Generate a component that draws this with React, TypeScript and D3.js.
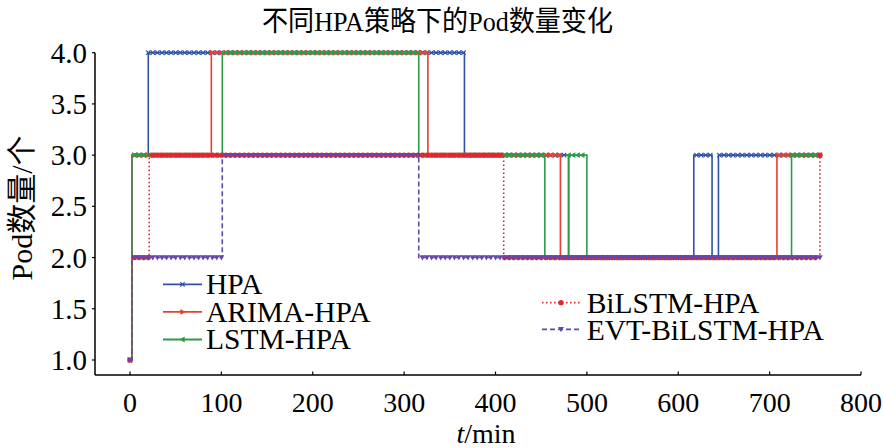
import React from "react";
import * as d3 from "d3";

// change points: [time (min)], [pod count]
const hpaTime = [0, 2, 20, 366, 480, 617, 637, 644, 755];
const hpaPods = [1, 3, 4, 3, 2, 3, 2, 3, 3];
const arimaTime = [0, 2, 89, 326, 471, 708, 755];
const arimaPods = [1, 3, 4, 3, 2, 3, 3];
const lstmTime = [0, 2, 101, 316, 454, 480, 500, 724, 755];
const lstmPods = [1, 3, 4, 3, 2, 3, 2, 3, 3];
const bilstmTime = [0, 2, 21, 409, 755];
const bilstmPods = [1, 2, 3, 2, 3];
const evtTime = [0, 2, 101, 316, 755];
const evtPods = [1, 2, 3, 2, 2];

const xTicks = [0, 100, 200, 300, 400, 500, 600, 700, 800];
const yTicks = [1.0, 1.5, 2.0, 2.5, 3.0, 3.5, 4.0];
const markerStep = 5; // one marker every 5 min sample

type Marker = "x" | "right" | "left" | "dot" | "down";

interface Series {
  name: string;
  time: number[];
  pods: number[];
  color: string;
  dash?: string;
  marker: Marker;
}

const series: Series[] = [
  { name: "HPA", time: hpaTime, pods: hpaPods, color: "#2f52a6", marker: "x" },
  { name: "ARIMA-HPA", time: arimaTime, pods: arimaPods, color: "#e8402e", marker: "right" },
  { name: "LSTM-HPA", time: lstmTime, pods: lstmPods, color: "#2e9a4a", marker: "left" },
  { name: "BiLSTM-HPA", time: bilstmTime, pods: bilstmPods, color: "#e2262c", dash: "1.5,2.5", marker: "dot" },
  { name: "EVT-BiLSTM-HPA", time: evtTime, pods: evtPods, color: "#6447ad", dash: "5,3", marker: "down" },
];

const FONT = "Liberation Serif, Noto Sans CJK SC";

function podsAt(s: Series, t: number) {
  let v = s.pods[0];
  for (let i = 0; i < s.time.length; i++) if (s.time[i] <= t) v = s.pods[i];
  return v;
}

function drawMarker(m: Marker, x: number, y: number, color: string, key: string) {
  switch (m) {
    case "x":
      return (
        <path key={key} d={`M${x - 2.2},${y - 2.2}L${x + 2.2},${y + 2.2}M${x - 2.2},${y + 2.2}L${x + 2.2},${y - 2.2}`}
          stroke={color} strokeWidth={1.1} fill="none" />
      );
    case "right":
      return <polygon key={key} points={`${x + 3.2},${y} ${x - 2.2},${y - 2.9} ${x - 2.2},${y + 2.9}`} fill={color} />;
    case "left":
      return <polygon key={key} points={`${x - 3.2},${y} ${x + 2.2},${y - 2.9} ${x + 2.2},${y + 2.9}`} fill={color} />;
    case "dot":
      return <circle key={key} cx={x} cy={y} r={2.6} fill={color} />;
    case "down":
      return <polygon key={key} points={`${x - 2.9},${y - 2.2} ${x + 2.9},${y - 2.2} ${x},${y + 3}`} fill={color} />;
  }
}

export default function App() {
  const x = d3.scaleLinear().domain([0, 800]).range([130, 861]);
  const y = d3.scaleLinear().domain([1, 4]).range([360, 52.7]);
  const x0 = 95;
  const yBase = 375;

  const line = (s: Series) =>
    d3
      .line<number>()
      .x((_, i) => x(s.time[i]))
      .y((d) => y(d))
      .curve(d3.curveStepAfter)(s.pods) || "";

  const lastT = d3.max(series, (s) => s.time[s.time.length - 1]) || 0;
  const samples = d3.range(0, lastT + 1, markerStep);

  const legendLeft = series.slice(0, 3);
  const legendRight = series.slice(3);

  return (
    <svg width={883} height={448} style={{ position: "absolute", left: 0, top: 0, background: "#fff", fontFamily: FONT }}>
      <rect width={883} height={448} fill="#fff" />
      <text x={437.5} y={31} textAnchor="middle" fontSize={28} textLength={351} lengthAdjust="spacingAndGlyphs">
        不同HPA策略下的Pod数量变化
      </text>

      {/* axes */}
      <line x1={x0} x2={x0} y1={y(4)} y2={yBase} stroke="#000" strokeWidth={1.5} />
      <line x1={x0} x2={x(800)} y1={yBase} y2={yBase} stroke="#000" strokeWidth={1.5} />
      {yTicks.map((t) => (
        <g key={"y" + t}>
          <line x1={x0 - 3} x2={x0} y1={y(t)} y2={y(t)} stroke="#000" strokeWidth={1.2} />
          <text x={87} y={y(t) + 10} textAnchor="end" fontSize={29}>
            {d3.format(".1f")(t)}
          </text>
        </g>
      ))}
      {xTicks.map((t) => (
        <g key={"x" + t}>
          <line x1={x(t)} x2={x(t)} y1={yBase} y2={yBase - 3.5} stroke="#000" strokeWidth={1.2} />
          <text x={x(t)} y={411.5} textAnchor="middle" fontSize={28}>
            {t}
          </text>
        </g>
      ))}
      <text x={486} y={443} textAnchor="middle" fontSize={28}>
        <tspan fontStyle="italic">t</tspan>/min
      </text>
      <text transform="translate(32,208) rotate(-90)" textAnchor="middle" fontSize={30}>
        Pod数量/个
      </text>

      {/* series */}
      {series.map((s) => (
        <g key={s.name}>
          <path d={line(s)} fill="none" stroke={s.color} strokeWidth={1.6} strokeDasharray={s.dash} />
          {samples
            .filter((t) => t <= s.time[s.time.length - 1])
            .map((t) => drawMarker(s.marker, x(t), y(podsAt(s, t)), s.color, s.name + t))}
        </g>
      ))}

      {/* legend */}
      {legendLeft.map((s, i) => {
        const ly = 284.3 + i * 27.6;
        return (
          <g key={"l" + s.name}>
            <line x1={163} x2={202} y1={ly} y2={ly} stroke={s.color} strokeWidth={1.8} strokeDasharray={s.dash} />
            {drawMarker(s.marker, 182.5, ly, s.color, "m")}
            <text x={206} y={ly + 9.7} fontSize={29.5}>
              {s.name}
            </text>
          </g>
        );
      })}
      {legendRight.map((s, i) => {
        const ly = 302.7 + i * 26.6;
        return (
          <g key={"r" + s.name}>
            <line x1={542} x2={580} y1={ly} y2={ly} stroke={s.color} strokeWidth={1.8} strokeDasharray={s.dash} />
            {drawMarker(s.marker, 561, ly, s.color, "m")}
            <text x={586.7} y={ly + 10.6} fontSize={29.5}>
              {s.name}
            </text>
          </g>
        );
      })}
    </svg>
  );
}
